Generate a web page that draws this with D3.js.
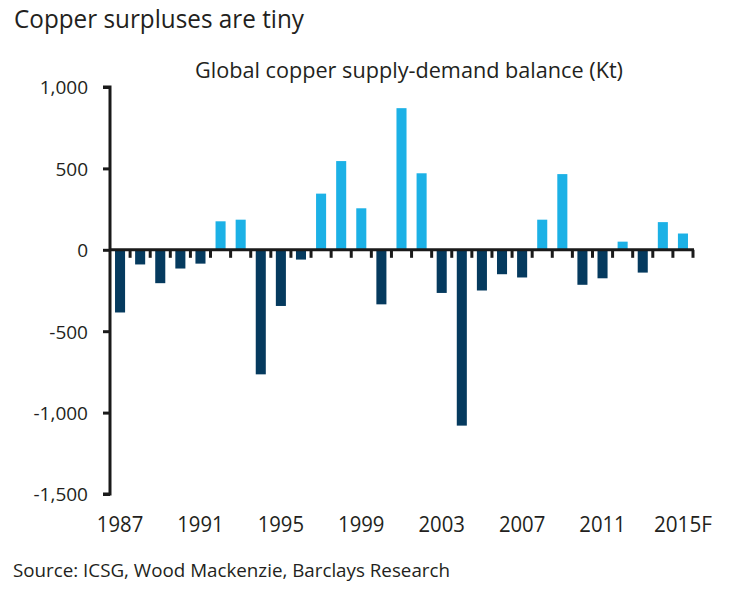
<!DOCTYPE html>
<html><head><meta charset="utf-8">
<script src="https://cdn.jsdelivr.net/npm/d3@7"></script>
<style>
body{margin:0;background:#fff;}
text{font-family:"Open Sans","Liberation Sans",sans-serif;fill:#231f20;}
</style></head>
<body><svg id="c" width="736" height="603"></svg>
<script>
const years = ["1987","1988","1989","1990","1991","1992","1993","1994","1995","1996","1997","1998","1999","2000","2001","2002","2003","2004","2005","2006","2007","2008","2009","2010","2011","2012","2013","2014","2015F"];
const balance = [-385,-90,-205,-115,-85,175,185,-765,-345,-60,345,545,255,-335,870,470,-265,-1080,-250,-150,-170,185,465,-215,-175,50,-140,170,100];
const yTicks = [1000,500,0,-500,-1000,-1500];
const xLabels = ["1987","1991","1995","1999","2003","2007","2011","2015F"];
const title = "Copper surpluses are tiny";
const subtitle = "Global copper supply-demand balance (Kt)";
const source = "Source: ICSG, Wood Mackenzie, Barclays Research";

const svg = d3.select("#c");
const x = d3.scaleBand().domain(years).range([110,693]).paddingInner(0.5).paddingOuter(0.25);
const y = d3.scaleLinear().domain([-1500,1000]).range([494,87]);
const axisCol = "#1a1a1a";

function fitText(sel, w){ sel.attr("textLength", w).attr("lengthAdjust","spacingAndGlyphs"); }

svg.append("text").attr("x",14).attr("y",28).attr("font-size",25).text(title).call(fitText,290);
svg.append("text").attr("x",195).attr("y",77.5).attr("font-size",21).text(subtitle).call(fitText,428);
svg.append("text").attr("x",13).attr("y",577).attr("font-size",18).text(source).call(fitText,437);

// bars
svg.append("g").selectAll("rect").data(years).join("rect")
  .attr("x", d=>x(d))
  .attr("width", x.bandwidth())
  .attr("y", (d,i)=> y(Math.max(0,balance[i])))
  .attr("height", (d,i)=> Math.abs(y(balance[i]) - y(0)))
  .attr("fill", (d,i)=> balance[i] >= 0 ? "#1cb1e6" : "#053a5e");

// y axis
const ya = svg.append("g").attr("transform","translate(110,0)")
  .call(d3.axisLeft(y).tickValues(yTicks).tickSize(7).tickFormat(d => d3.format(",")(d).replace("\u2212","-")));
ya.select(".domain").attr("stroke",axisCol).attr("stroke-width",3).attr("d",`M-7,${y(1000)}H0V${y(-1500)}H-7`);
ya.selectAll(".tick line").attr("stroke",axisCol).attr("stroke-width",3);
ya.selectAll(".tick text").attr("font-size",19).attr("x",-22).attr("dy","0.36em")
  .style("font-family",'"Open Sans",sans-serif').attr("fill","#231f20");

// x axis at zero
const step = x.step();
const start = x(years[0]) - step*x.paddingOuter() - (step - x.bandwidth())/2 + (step - x.bandwidth())/2;
const boundaries = d3.range(1, years.length+1).map(i => 110 + i*(583/years.length));
const xa = svg.append("g");
xa.append("line").attr("x1",110).attr("x2",694).attr("y1",y(0)).attr("y2",y(0)).attr("stroke",axisCol).attr("stroke-width",3);
xa.selectAll("line.t").data(boundaries).join("line").attr("class","t")
  .attr("x1",d=>d).attr("x2",d=>d).attr("y1",y(0)).attr("y2",y(0)+8).attr("stroke",axisCol).attr("stroke-width",3);

// x labels
svg.append("g").selectAll("text").data(xLabels).join("text")
  .attr("x", d=> x(d)+x.bandwidth()/2)
  .attr("y", 532).attr("text-anchor","middle").attr("font-size",22)
  .each(function(d){ d3.select(this).attr("textLength", d.length*11.6).attr("lengthAdjust","spacingAndGlyphs"); })
  .text(d=>d);
</script></body></html>
